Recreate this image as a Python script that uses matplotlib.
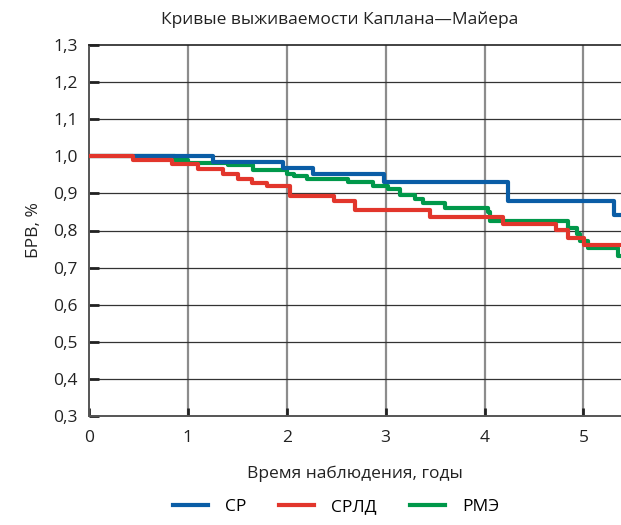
import numpy as np
import matplotlib.pyplot as plt

plt.rcParams['font.family'] = ['Open Sans', 'DejaVu Sans']

# Kaplan-Meier step data (time in years, survival)
t_cp = [0, 1.25, 1.96, 2.27, 2.98, 4.24, 5.31, 5.38]
s_cp = [1.0, 0.985, 0.969, 0.951, 0.930, 0.879, 0.843, 0.843]

t_srld = [0, 0.44, 0.84, 1.10, 1.36, 1.51, 1.65, 1.80, 2.03, 2.48, 2.69,
          3.45, 4.19, 4.72, 4.84, 5.01, 5.38]
s_srld = [1.0, 0.989, 0.980, 0.967, 0.953, 0.940, 0.928, 0.919, 0.892, 0.879,
          0.854, 0.837, 0.818, 0.801, 0.779, 0.760, 0.760]

t_rme = [0, 0.87, 1.00, 1.41, 1.66, 2.00, 2.07, 2.20, 2.62, 2.87, 3.02, 3.15,
         3.30, 3.38, 3.60, 4.03, 4.06, 4.84, 4.94, 4.97, 5.05, 5.35, 5.38]
s_rme = [1.0, 0.990, 0.983, 0.976, 0.962, 0.953, 0.946, 0.939, 0.930, 0.921,
         0.911, 0.897, 0.884, 0.875, 0.861, 0.850, 0.825, 0.808, 0.790, 0.772,
         0.754, 0.731, 0.731]

labels = ['СР', 'СРЛД', 'РМЭ']
colors = ['#0a5da6', '#e2362c', '#00984a']

fig = plt.figure(figsize=(6.21, 5.25), dpi=100)
ax = fig.add_axes([89 / 621, 1 - 416 / 525, 1 - 89 / 621, (416 - 45) / 525])

ax.step(t_cp, s_cp, where='post', color=colors[0], lw=3, label=labels[0], zorder=4)
ax.step(t_srld, s_srld, where='post', color=colors[1], lw=3, label=labels[1], zorder=5)
ax.step(t_rme, s_rme, where='post', color=colors[2], lw=3, label=labels[2], zorder=3)

ax.set_xlim(0, 5.38)
ax.set_ylim(0.3, 1.3)
ax.set_xticks(np.arange(0, 6, 1))
ax.set_yticks(np.arange(0.3, 1.31, 0.1))
ax.set_yticklabels([f'{v:.1f}'.replace('.', ',') for v in np.arange(0.3, 1.31, 0.1)])

for x in range(1, 6):
    ax.axvline(x, color='#8c8c8c', lw=1.6, zorder=1)
for y in np.arange(0.4, 1.25, 0.1):
    ax.axhline(y, color='#333333', lw=0.9, zorder=1)

ax.tick_params(axis='both', direction='in', labelsize=12.5, colors='#222222',
               width=2, labelcolor='#222222')
ax.tick_params(axis='y', length=7, pad=8)
ax.tick_params(axis='x', length=6, pad=10)

for side in ['left', 'bottom']:
    ax.spines[side].set_color('#555555')
    ax.spines[side].set_linewidth(1.4)
ax.spines['top'].set_color('#222222')
ax.spines['top'].set_linewidth(1.2)
ax.spines['right'].set_visible(False)

ax.set_xlabel('Время наблюдения, годы', fontsize=12.5, color='#222222', labelpad=14)
ax.set_ylabel('БРВ, %', fontsize=12.5, color='#222222', labelpad=8)
fig.text(340 / 621, 1 - 20 / 525, 'Кривые выживаемости Каплана—Майера',
         ha='center', va='center', fontsize=12.5, color='#222222')

fig.legend(loc='center', bbox_to_anchor=(336 / 621, 1 - 507 / 525), ncol=3,
           frameon=False, fontsize=12.5, handlelength=2.0, columnspacing=1.9,
           handletextpad=1.0)

fig.savefig('out.png', dpi=100)
